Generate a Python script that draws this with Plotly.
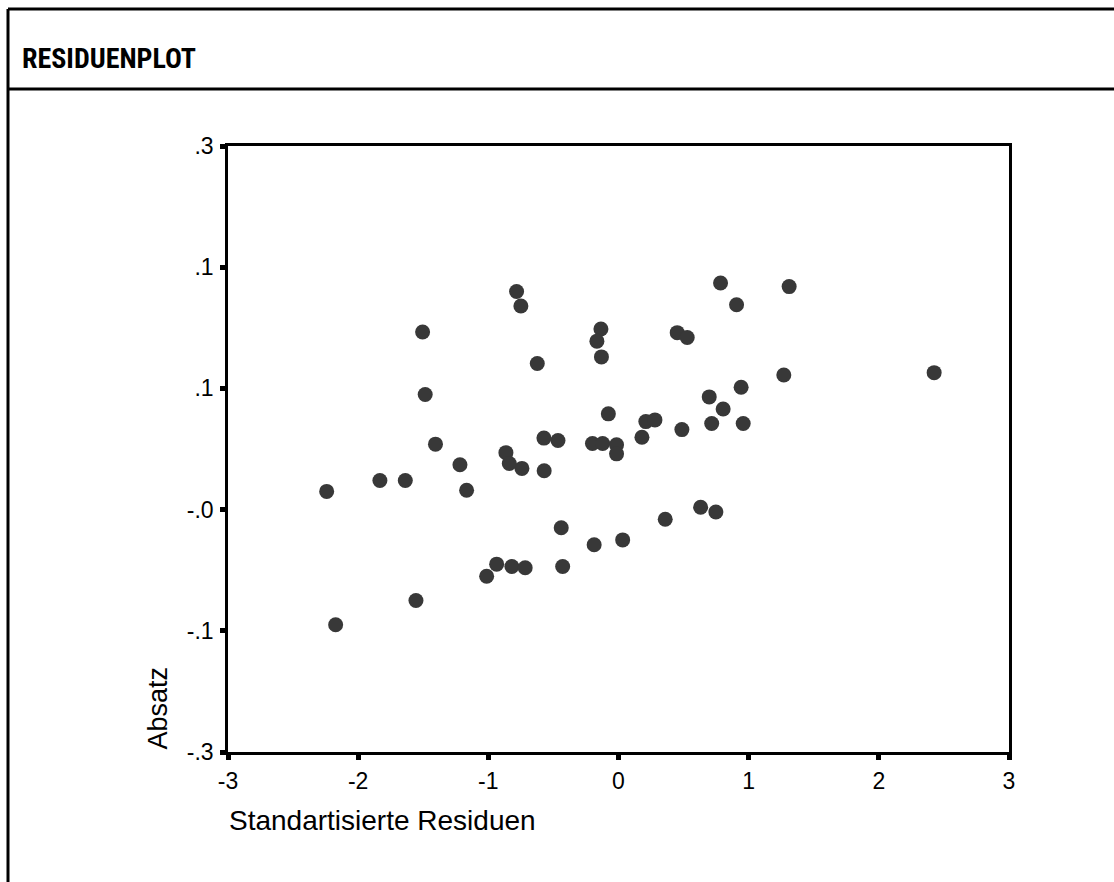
import plotly.graph_objects as go

# Standardized residuals (x) and Absatz residual values (y)
resid_x = [-2.242, -2.173, -1.833, -1.638, -1.556, -1.505, -1.485, -1.406, -1.218, -1.167,
           -1.013, -0.936, -0.865, -0.839, -0.819, -0.783, -0.750, -0.742, -0.717, -0.624,
           -0.573, -0.571, -0.465, -0.440, -0.429, -0.200, -0.187, -0.135, -0.166, -0.131,
           -0.122, -0.078, -0.015, -0.015, 0.032, 0.180, 0.210, 0.280, 0.359, 0.451,
           0.487, 0.528, 0.631, 0.697, 0.716, 0.748, 0.784, 0.804, 0.907, 0.942,
           0.958, 1.270, 1.311, 2.425]
absatz_y = [-0.035, -0.145, -0.026, -0.026, -0.125, 0.0965, 0.045, 0.004, -0.013, -0.034,
            -0.105, -0.095, -0.003, -0.012, -0.097, 0.130, 0.118, -0.016, -0.098, 0.0705,
            0.009, -0.018, 0.007, -0.065, -0.097, 0.0045, -0.079, 0.099, 0.089, 0.076,
            0.0045, 0.029, 0.0035, -0.004, -0.075, 0.0097, 0.0226, 0.024, -0.058, 0.096,
            0.016, 0.092, -0.048, 0.043, 0.021, -0.052, 0.137, 0.033, 0.119, 0.051,
            0.021, 0.061, 0.134, 0.063]

x_tickvals = [-3, -2, -1, 0, 1, 2, 3]
x_ticktext = ["-3", "-2", "-1", "0", "1", "2", "3"]
y_tickvals = [-0.25, -0.15, -0.05, 0.05, 0.15, 0.25]
y_ticktext = ["-.3", "-.1", "-.0", ".1", ".1", ".3"]

W, H = 1114, 882
L, R, T, B = 228, 105, 146, 130
pw, ph = W - L - R, H - T - B


def px_x(p):
    return (p - L) / pw


def px_y(p):
    return (H - B - p) / ph


fig = go.Figure()
fig.add_trace(go.Scatter(
    x=resid_x, y=absatz_y, mode="markers",
    marker=dict(size=15, color="#383838", line=dict(width=0)),
    showlegend=False, hoverinfo="x+y",
))

axis_font = dict(family="Liberation Sans, Arial, sans-serif", size=23, color="#000")
fig.update_xaxes(
    range=[-3, 3], tickvals=x_tickvals, ticktext=x_ticktext,
    showgrid=False, zeroline=False, showline=True, linecolor="#000", linewidth=2.5,
    mirror=True, ticks="outside", ticklen=5, tickwidth=5, tickcolor="#000",
    tickfont=axis_font, ticklabelstandoff=2,
)
fig.update_yaxes(
    range=[-0.25, 0.25], tickvals=y_tickvals, ticktext=y_ticktext,
    showgrid=False, zeroline=False, showline=True, linecolor="#000", linewidth=2.5,
    mirror=True, ticks="outside", ticklen=5, tickwidth=5, tickcolor="#000",
    tickfont=axis_font, ticklabelstandoff=2,
)

shapes = [
    # outer frame: top line, header separator, left edge
    dict(type="line", xref="paper", yref="paper", x0=px_x(8), x1=px_x(W + 2),
         y0=px_y(9), y1=px_y(9), line=dict(color="#000", width=3)),
    dict(type="line", xref="paper", yref="paper", x0=px_x(8), x1=px_x(W + 2),
         y0=px_y(89), y1=px_y(89), line=dict(color="#000", width=3)),
    dict(type="line", xref="paper", yref="paper", x0=px_x(8), x1=px_x(8),
         y0=px_y(9), y1=px_y(H + 2), line=dict(color="#000", width=3)),
]

annotations = [
    dict(text="<b>RESIDUENPLOT</b>", xref="paper", yref="paper", x=px_x(20), y=px_y(58),
         xanchor="left", yanchor="middle", showarrow=False,
         font=dict(family="Liberation Sans Narrow, Roboto Condensed, DejaVu Sans Condensed, sans-serif",
                   size=28, color="#000")),
    dict(text="Standartisierte Residuen", xref="paper", yref="paper", x=px_x(227), y=px_y(820),
         xanchor="left", yanchor="middle", showarrow=False,
         font=dict(family="Liberation Sans, Arial, sans-serif", size=28, color="#000")),
    dict(text="Absatz", xref="paper", yref="paper", x=px_x(157), y=px_y(752),
         xanchor="center", yanchor="bottom", textangle=-90, showarrow=False,
         font=dict(family="Liberation Sans, Arial, sans-serif", size=27, color="#000")),
]

fig.update_layout(
    width=W, height=H, margin=dict(l=L, r=R, t=T, b=B),
    paper_bgcolor="white", plot_bgcolor="white",
    shapes=shapes, annotations=annotations,
)

fig.write_html("out.html")
